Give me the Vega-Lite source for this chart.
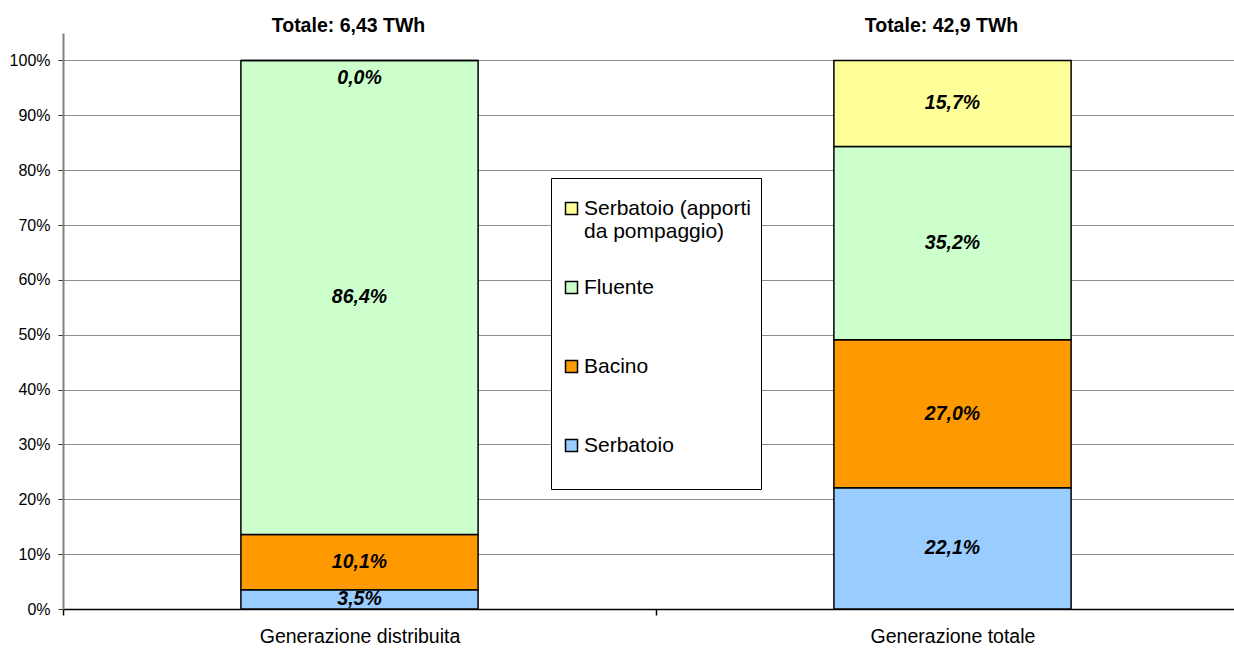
{
  "$schema": "https://vega.github.io/schema/vega-lite/v6.json",
  "autosize": "none",
  "padding": {"left": 63, "top": 33, "right": 0, "bottom": 39},
  "width": 1171,
  "height": 576,
  "background": "white",
  "config": {
    "font": "Liberation Sans",
    "view": {"stroke": null},
    "locale": {"number": {"decimal": ",", "thousands": ".", "grouping": [3], "currency": ["€", ""]}}
  },
  "datasets": {
    "shares": [
      {"cat": "Generazione distribuita", "tipo": "Serbatoio", "k": 1, "v": 0.035},
      {"cat": "Generazione distribuita", "tipo": "Bacino", "k": 2, "v": 0.101},
      {"cat": "Generazione distribuita", "tipo": "Fluente", "k": 3, "v": 0.864},
      {"cat": "Generazione distribuita", "tipo": "Serbatoio (apporti da pompaggio)", "k": 4, "v": 0.0},
      {"cat": "Generazione totale", "tipo": "Serbatoio", "k": 1, "v": 0.221},
      {"cat": "Generazione totale", "tipo": "Bacino", "k": 2, "v": 0.270},
      {"cat": "Generazione totale", "tipo": "Fluente", "k": 3, "v": 0.352},
      {"cat": "Generazione totale", "tipo": "Serbatoio (apporti da pompaggio)", "k": 4, "v": 0.157}
    ],
    "totals": [
      {"cat": "Generazione distribuita", "t": "Totale: 6,43 TWh"},
      {"cat": "Generazione totale", "t": "Totale: 42,9 TWh"}
    ]
  },
  "encoding": {
    "x": {
      "field": "cat", "type": "nominal", "sort": null,
      "scale": {"paddingInner": 0, "paddingOuter": 0, "range": [0, 1186]},
      "axis": {
        "title": null, "labelAngle": 0, "labelFontSize": 19.5, "labelColor": "black",
        "labelPadding": 12, "labelLimit": 400, "tickBand": "extent", "tickSize": 6, "tickColor": "black",
        "domainColor": "black", "domainWidth": 1.5, "tickWidth": 1.5, "grid": false
      }
    }
  },
  "layer": [
    {
      "data": {"name": "shares"},
      "transform": [
        {"stack": "v", "groupby": ["cat"], "sort": [{"field": "k"}], "as": ["y0", "y1"]}
      ],
      "mark": {"type": "bar", "width": {"band": 0.4}, "stroke": "black", "strokeWidth": 1.5},
      "encoding": {
        "y": {
          "field": "y0", "type": "quantitative",
          "scale": {"domain": [0, 1.05], "nice": false, "zero": true},
          "axis": {
            "title": null, "values": [0, 0.1, 0.2, 0.3, 0.4, 0.5, 0.6, 0.7, 0.8, 0.9, 1.0],
            "format": ".0%", "labelFontSize": 16, "labelColor": "black", "labelPadding": 8,
            "tickSize": 5, "tickColor": "#333333", "domainColor": "#808080", "domainWidth": 2,
            "grid": true, "gridColor": "#8c8c8c", "gridWidth": 1
          }
        },
        "y2": {"field": "y1"},
        "color": {
          "field": "tipo", "type": "nominal",
          "scale": {
            "domain": ["Serbatoio (apporti da pompaggio)", "Fluente", "Bacino", "Serbatoio"],
            "range": ["#FFFF99", "#CCFFCC", "#FF9900", "#99CCFF"]
          },
          "legend": {
            "title": " ", "titleFontSize": 9, "titlePadding": 1,
            "orient": "none", "legendX": 488, "legendY": 145,
            "fillColor": "white", "strokeColor": "black", "padding": 10,
            "symbolType": "square", "symbolSize": 144, "symbolStrokeColor": "black",
            "symbolStrokeWidth": 1.5, "labelFontSize": 21, "labelColor": "black",
            "labelLimit": 300, "labelOffset": 2, "rowPadding": 34, "gridAlign": "all",
            "labelExpr": "datum.label == 'Serbatoio (apporti da pompaggio)' ? ['Serbatoio (apporti', 'da pompaggio)'] : (datum.label == 'Serbatoio' ? ['Serbatoio', ''] : datum.label)"
          }
        }
      }
    },
    {
      "data": {"name": "shares"},
      "transform": [
        {"stack": "v", "groupby": ["cat"], "sort": [{"field": "k"}], "as": ["y0", "y1"]},
        {"calculate": "(datum.y0 + datum.y1) / 2", "as": "mid"},
        {"filter": "datum.v > 0"}
      ],
      "mark": {"type": "text", "fontSize": 19.5, "fontWeight": "bold", "fontStyle": "italic", "baseline": "middle", "color": "black"},
      "encoding": {
        "y": {"field": "mid", "type": "quantitative"},
        "text": {"field": "v", "type": "quantitative", "format": ".1%"}
      }
    },
    {
      "data": {"name": "shares"},
      "transform": [
        {"stack": "v", "groupby": ["cat"], "sort": [{"field": "k"}], "as": ["y0", "y1"]},
        {"filter": "datum.v == 0"}
      ],
      "mark": {"type": "text", "fontSize": 19.5, "fontWeight": "bold", "fontStyle": "italic", "baseline": "middle", "color": "black", "dy": 18},
      "encoding": {
        "y": {"field": "y1", "type": "quantitative"},
        "text": {"field": "v", "type": "quantitative", "format": ".1%"}
      }
    },
    {
      "data": {"name": "totals"},
      "mark": {"type": "text", "fontSize": 19.5, "fontWeight": "bold", "baseline": "middle", "color": "black", "dy": -7, "dx": -11},
      "encoding": {
        "y": {"datum": 1.05, "type": "quantitative"},
        "text": {"field": "t", "type": "nominal"}
      }
    }
  ]
}
